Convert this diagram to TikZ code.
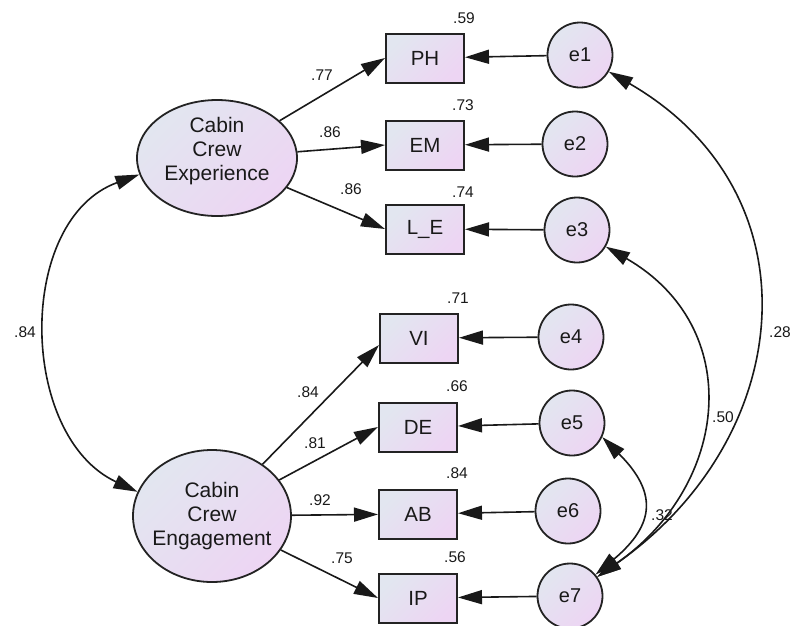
\documentclass[tikz,border=0pt]{standalone}
\usepackage{fontspec}
\setmainfont{Liberation Sans}
\usetikzlibrary{arrows.meta,shapes.geometric}
\definecolor{fillA}{RGB}{226,230,240}
\definecolor{fillB}{RGB}{237,213,243}
\definecolor{edge}{RGB}{35,35,35}
\definecolor{ink}{RGB}{25,25,25}

\tikzset{
  gradfill/.style={top color=fillA, bottom color=fillB, shading angle=45},
  obs/.style={rectangle, draw=edge, line width=2pt, minimum width=78pt, minimum height=49pt,
    inner sep=0pt, gradfill, text=ink, font=\fontsize{20.5}{22}\selectfont},
  err/.style={circle, draw=edge, line width=1.8pt, minimum size=65pt, inner sep=0pt,
    gradfill, text=ink, font=\fontsize{20}{22}\selectfont},
  lat/.style={ellipse, draw=edge, line width=1.8pt, inner sep=-20pt, align=center,
    gradfill, text=ink, font=\fontsize{21}{24}\selectfont},
  tip/.tip={Triangle[length=24pt,width=14pt]},
  load/.style={line width=1.6pt, draw=ink, -tip},
  cov/.style={line width=1.6pt, draw=ink, tip-tip},
  lbl/.style={inner sep=0pt, text=ink, font=\fontsize{15.5}{17}\selectfont}
}

\begin{document}
\begin{tikzpicture}[x=1pt,y=1pt]
\useasboundingbox (0,0) rectangle (793,-625);

% latent factors
\node[lat, minimum width=160pt, minimum height=116pt, text depth=19pt] (exp) at (217,-158) {Cabin\\Crew\\Experience};
\node[lat, minimum width=158pt, minimum height=132pt] (eng) at (212,-516) {Cabin\\Crew\\Engagement};

% indicators
\node[obs] (ph) at (425,-58)  {PH};
\node[obs] (em) at (425,-145) {EM};
\node[obs] (le) at (425,-229) {L\_E};
\node[obs] (vi) at (419,-338) {VI};
\node[obs] (de) at (418,-427) {DE};
\node[obs] (ab) at (418,-514) {AB};
\node[obs] (ip) at (418,-598) {IP};

% error terms
\node[err] (e1) at (580,-55)  {e1};
\node[err] (e2) at (575,-144) {e2};
\node[err] (e3) at (577,-230) {e3};
\node[err] (e4) at (571,-337) {e4};
\node[err] (e5) at (572,-423) {e5};
\node[err] (e6) at (568,-511) {e6};
\node[err] (e7) at (570,-596) {e7};

% factor loadings
\draw[load] (exp) -- (ph.west);
\draw[load] (exp) -- (em.west);
\draw[load] (exp) -- (le.west);
\draw[load] (eng) -- (vi.190);
\draw[load] (eng) -- (de.west);
\draw[load] (eng) -- (ab);
\draw[load] (eng) -- (ip.west);

% error paths
\draw[load] (e1) -- (ph);
\draw[load] (e2) -- (em);
\draw[load] (e3) -- (le);
\draw[load] (e4) -- (vi);
\draw[load] (e5) -- (de);
\draw[load] (e6) -- (ab);
\draw[load] (e7) -- (ip);

% covariances
\draw[cov] (exp.192) to[out=200,in=155,looseness=1.06] (eng.162);
\draw[cov] (e1.-30) to[out=-30,in=35,looseness=1.23] (e7.35);
\draw[cov] (e3.-30) to[out=-30,in=35,looseness=1.25] (e7.35);
\draw[cov] (e5.-25) to[out=-45,in=40,looseness=1.45] (e7.40);

% coefficient labels
\node[lbl] (l1) at (322,-75)  {.77};
\node[lbl] (l2) at (330,-132) {.86};
\node[lbl] (l3) at (351,-189) {.86};
\node[lbl] (l4) at (308,-392) {.84};
\node[lbl] (l5) at (315,-443) {.81};
\node[lbl] (l6) at (320,-500) {.92};
\node[lbl] (l7) at (342,-558) {.75};

% squared multiple correlations
\node[lbl] (r1) at (464,-18)  {.59};
\node[lbl] (r2) at (463,-105) {.73};
\node[lbl] (r3) at (463,-192) {.74};
\node[lbl] (r4) at (458,-298) {.71};
\node[lbl] (r5) at (457,-386) {.66};
\node[lbl] (r6) at (457,-473) {.84};
\node[lbl] (r7) at (455,-557) {.56};

% correlation labels
\node[lbl] (c1) at (25,-332)  {.84};
\node[lbl] (c2) at (780,-332) {.28};
\node[lbl] (c3) at (723,-417) {.50};
\node[lbl] (c4) at (662,-515) {.32};
\end{tikzpicture}
\end{document}
